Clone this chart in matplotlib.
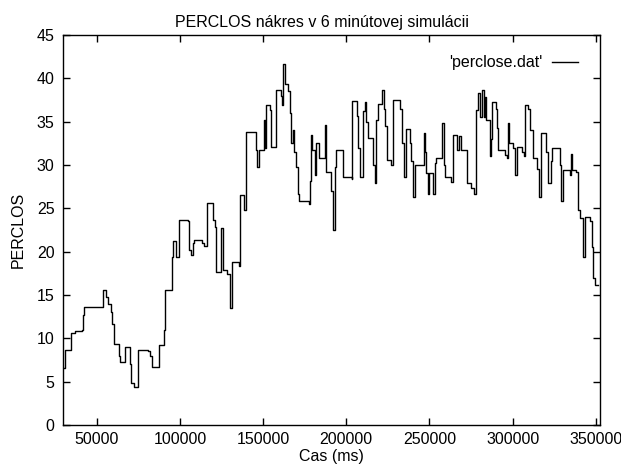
import matplotlib
matplotlib.use("Agg")
import matplotlib.pyplot as plt

plt.rcParams['font.family'] = ['Liberation Sans', 'DejaVu Sans']

# time (ms) at which each level starts, and PERCLOS level
time_ms = [30080, 31100, 34520, 37100, 41120, 41720, 42500, 53720, 55700, 56480,
           58520, 59300, 60080, 63080, 64100, 66680, 69920, 70520, 72080, 74720,
           81080, 82100, 83120, 87680, 90500, 91280, 95480, 96080, 97700, 99680,
           105080, 105500, 106700, 107720, 108680, 113120, 114680, 116120, 120080, 121100,
           121880, 124520, 126080, 128120, 130280, 131120, 135500, 136100, 138500, 139520,
           145520, 146480, 147500, 150500, 151100, 151700, 154100, 154700, 157520, 160520,
           161480, 162080, 162920, 165080, 166100, 166880, 167720, 168680, 169700, 170900,
           171500, 177680, 178100, 178520, 179300, 181100, 181880, 183320, 186920, 187700,
           190520, 191720, 193100, 193880, 198080, 203300, 203720, 206480, 207320, 208520,
           210080, 211280, 212120, 212900, 216080, 217280, 218120, 218900, 221480, 222500,
           223280, 224300, 226700, 228080, 232520, 233480, 234680, 235700, 238280, 239120,
           240320, 241100, 246500, 247280, 248120, 248900, 249500, 252320, 253280, 254120,
           257720, 258500, 259280, 262700, 263900, 266720, 267680, 268700, 272720, 275120,
           276680, 277700, 278900, 280100, 281480, 282680, 283100, 283880, 286280, 287120,
           287720, 289700, 290720, 291320, 295520, 296480, 296900, 297680, 300320, 301520,
           302480, 305480, 307100, 307700, 309080, 310520, 312320, 314480, 315920, 317120,
           320300, 321500, 322880, 323900, 328280, 329120, 330080, 334700, 335300, 335900,
           338300, 339080, 340700, 342320, 343520, 346700, 347480, 348500, 349520, 351500]
perclos = [6.6, 8.65, 10.6, 10.8, 11.0, 12.7, 13.65, 15.6, 14.8, 14.0,
           13.0, 11.7, 9.4, 8.0, 7.3, 9.0, 7.0, 4.8, 4.4, 8.65,
           8.5, 8.0, 6.7, 9.2, 11.0, 15.6, 19.4, 21.2, 19.4, 23.6,
           23.5, 20.2, 19.6, 21.0, 21.3, 21.0, 20.7, 25.6, 23.7, 22.9,
           17.7, 22.7, 17.9, 17.4, 13.5, 18.8, 18.4, 26.5, 24.8, 33.8,
           31.7, 29.8, 31.7, 35.2, 32.0, 36.9, 36.3, 32.1, 38.7, 38.0,
           36.9, 41.7, 39.4, 38.5, 36.0, 32.5, 34.0, 31.5, 29.8, 26.7,
           25.8, 25.5, 28.1, 33.5, 31.7, 28.8, 32.5, 30.8, 34.6, 29.2,
           27.0, 22.5, 29.8, 31.7, 28.6, 28.4, 37.4, 35.6, 32.0, 28.6,
           36.2, 37.3, 35.0, 33.1, 30.0, 27.9, 35.2, 37.0, 38.7, 36.5,
           34.5, 30.6, 30.0, 37.5, 36.5, 32.5, 28.6, 34.2, 32.5, 30.5,
           26.3, 30.0, 33.7, 31.5, 29.1, 26.7, 29.1, 26.7, 30.2, 30.8,
           34.8, 30.0, 28.6, 28.0, 33.5, 31.7, 33.3, 31.7, 27.9, 27.3,
           26.7, 36.3, 38.3, 35.5, 38.7, 35.5, 37.9, 35.2, 31.0, 33.0,
           37.3, 36.5, 34.3, 31.7, 31.2, 30.8, 34.8, 32.5, 32.0, 28.8,
           32.1, 31.5, 31.0, 36.9, 36.5, 34.0, 30.8, 29.5, 26.3, 33.7,
           31.5, 27.9, 30.5, 32.0, 30.0, 25.8, 29.4, 28.8, 31.3, 29.4,
           29.2, 24.8, 23.9, 19.4, 24.0, 23.5, 20.5, 17.0, 16.2, 16.2]

x_ticks = [50000, 100000, 150000, 200000, 250000, 300000, 350000]
y_ticks = [0, 5, 10, 15, 20, 25, 30, 35, 40, 45]

title = "PERCLOS nákres v 6 minútovej simulácii"
x_label = "Cas (ms)"
y_label = "PERCLOS"
series_label = "'perclose.dat'"

fs = 11.5

fig = plt.figure(figsize=(6.21, 4.66), dpi=100)
ax = fig.add_axes([63/621, 1 - 425/466, (600-63)/621, (425-35)/466])

ax.plot(time_ms, perclos, drawstyle='steps-post', color='black', lw=1.0,
        label=series_label)

ax.set_xlim(29700, 352500)
ax.set_ylim(0, 45)
ax.set_xticks(x_ticks)
ax.set_xticklabels([str(t) for t in x_ticks])
ax.set_yticks(y_ticks)
ax.tick_params(direction='in', length=5, width=1, top=True, right=True,
               labelsize=fs, colors='black', pad=6)
ax.tick_params(axis='x', pad=5)
for s in ax.spines.values():
    s.set_linewidth(1.0)
    s.set_color('black')

ax.set_title(title, fontsize=fs, pad=6, x=0.482)
ax.set_xlabel(x_label, fontsize=fs, labelpad=1.5)
ax.set_ylabel(y_label, fontsize=fs, labelpad=8)

ax.legend(loc='upper right', frameon=False, markerfirst=False, fontsize=fs,
          handlelength=1.6, handletextpad=0.6, borderaxespad=0.5,
          bbox_to_anchor=(0.985, 0.985))

fig.savefig("out.png", dpi=100)
